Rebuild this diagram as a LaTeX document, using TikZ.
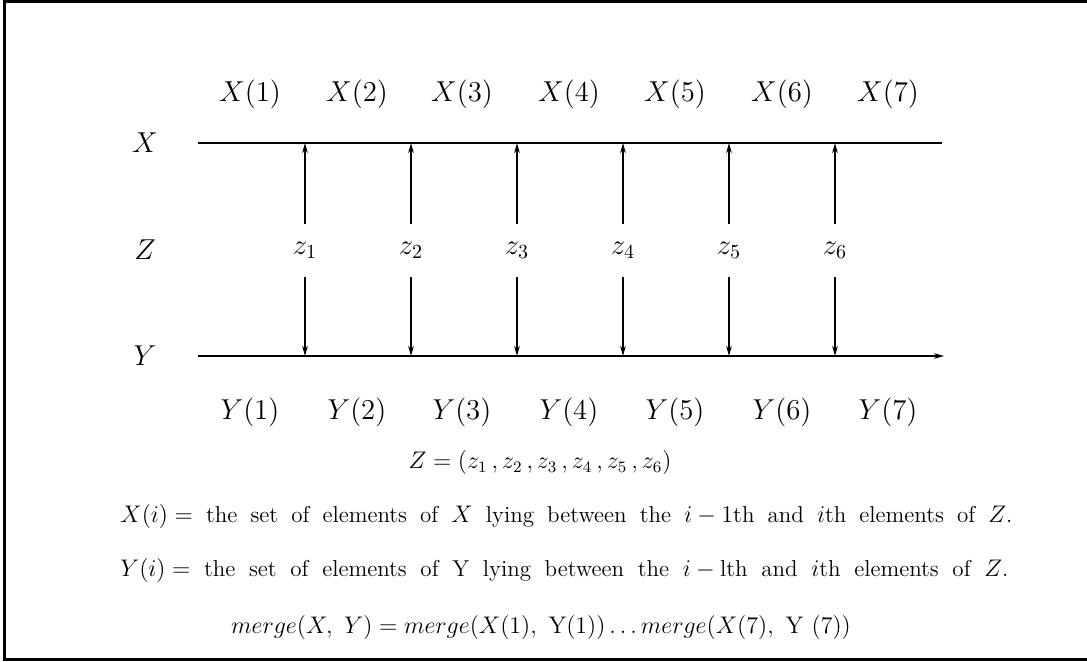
\documentclass[tikz,border=0pt]{standalone}
\usetikzlibrary{arrows.meta}
\begin{document}
\begin{tikzpicture}[x=0.5pt,y=-0.5pt,
  lbl/.style={inner sep=0pt, font=\fontsize{14}{16}\selectfont},
  txt/.style={inner sep=0pt, font=\fontsize{12}{15}\selectfont},
  ltxt/.style={inner sep=0pt, font=\fontsize{11.5}{14}\selectfont},
  zlab/.style={lbl, minimum height=26.5pt},
  ln/.style={line width=1pt},
  arr/.style={line width=1pt, -{Stealth[length=5pt,width=2.8pt]}}]
\useasboundingbox (0,0) rectangle (1087,662);
\draw[line width=1.6pt] (1087,1) -- (4.5,1) -- (4.5,659.5) -- (1087,659.5);
% axes
\coordinate (xl) at (198,143);
\coordinate (xr) at (942,143);
\coordinate (yl) at (198,356);
\coordinate (yr) at (944,356);
\draw[ln] (xl) -- (xr);
\draw[arr] (yl) -- (yr);
\node[lbl] (X) at (145,143) {$X$};
\node[lbl] (Z) at (145,250) {$Z$};
\node[lbl] (Y) at (145,356) {$Y$};
% top and bottom labels
\foreach \i/\x in {1/250,2/357,3/462,4/569,5/675,6/782,7/888}{
  \node[lbl, anchor=base] (X\i) at (\x,102) {$X(\i)$};
  \node[lbl, anchor=base] (Y\i) at (\x,420) {$Y(\i)$};
}
% z labels and arrows
\foreach \i/\x in {1/305,2/411,3/517,4/623,5/729,6/835}{
  \node[zlab] (z\i) at (\x,250.5) {$z_\i$};
  \draw[arr] (z\i.north) -- (z\i.north |- xl);
  \draw[arr] (z\i.south) -- (z\i.south |- yl);
}
% text
\node[txt, anchor=base] (zdef) at (540,469) {$Z = (z_1\,, z_2\,, z_3\,, z_4\,, z_5\,, z_6)$};
\node[ltxt, anchor=base west] (xdef) at (120,523) {\makebox[446pt][s]{\mbox{$X(i) =$} the set of elements of $X$ lying between the \mbox{$i-1$th} and $i$th elements of $Z$.}};
\node[ltxt, anchor=base west] (ydef) at (120,576) {\makebox[444pt][s]{\mbox{$Y(i) =$} the set of elements of Y lying between the \mbox{$i-{}$lth} and $i$th elements of $Z$.}};
\node[txt, anchor=base] (mdef) at (541,633) {$merge(X,\ Y) = merge(X(1),\ \mathrm{Y}(1))\ldots merge(X(7),\ \mathrm{Y}\ (7))$};
\end{tikzpicture}
\end{document}
